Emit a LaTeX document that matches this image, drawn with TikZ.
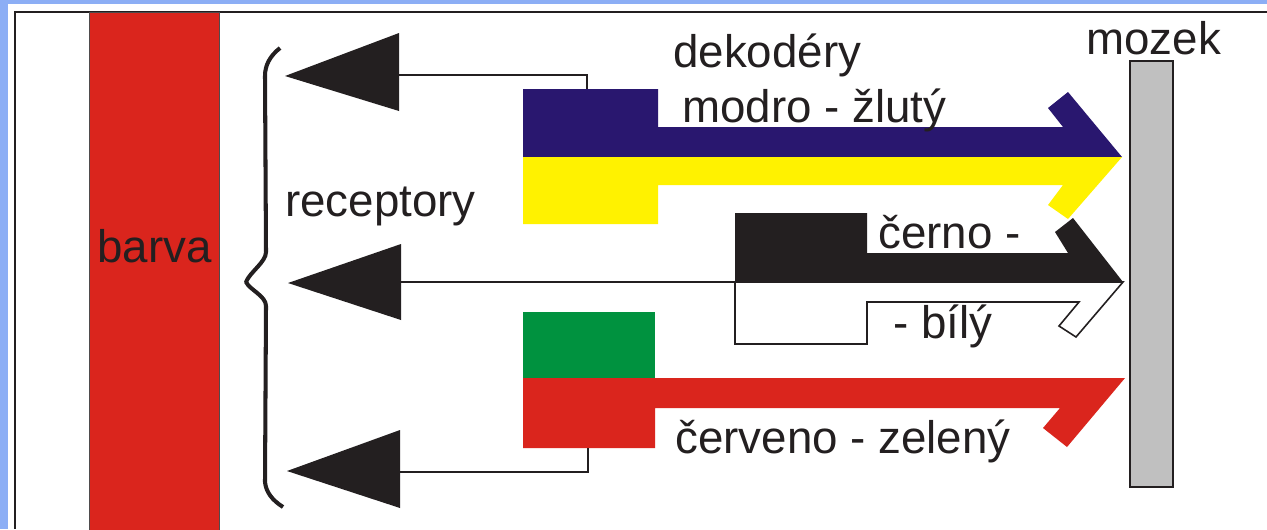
\documentclass[tikz,border=0pt]{standalone}
\usepackage{fontspec}
\setmainfont{Liberation Sans}
\definecolor{bgblue}{RGB}{140,174,245}
\definecolor{barred}{RGB}{218,37,29}
\definecolor{navy}{RGB}{41,23,111}
\definecolor{yel}{RGB}{255,242,0}
\definecolor{grn}{RGB}{0,146,63}
\definecolor{brain}{RGB}{192,192,192}
\definecolor{ink}{RGB}{35,31,32}
\tikzset{
  lbl/.style={inner sep=0pt, anchor=base west, text=ink, font=\fontsize{26}{30}\selectfont},
  thin line/.style={draw=ink, line width=0.8pt},
  tri/.style={fill=ink},
  outl/.style={draw=ink, line width=0.9pt, line join=miter}
}
\begin{document}
\begin{tikzpicture}[x=0.02cm, y=-0.02cm]
\useasboundingbox (0,0) rectangle (1267,529);
% background
\fill[bgblue] (0,0) rectangle (1267,529);
\fill[white] (8,4) rectangle (1267,529);
\draw[ink, line width=0.9pt] (1267,12) -- (15,12) -- (15,529);
% colour bar
\draw[fill=barred, draw=ink!80, line width=0.5pt] (89,12) rectangle (219,535);
\node[lbl] (barva) at (97,262) {barva};
% brace
\draw[ink, line width=2.3pt, line cap=butt, line join=round]
  (280,48) .. controls (270,56) and (265,65) .. (265,76) -- (266,252)
  .. controls (266,262) and (250,272) .. (246,282)
  .. controls (250,290) and (266,296) .. (266,306) -- (265,482)
  .. controls (266,492) and (272,500) .. (283,507);
\node[lbl] (receptory) at (285,216) {receptory};
% receptor arrows
\fill[tri] (285,76) coordinate (t1) -- (399,33) -- (399,111) -- cycle;
\coordinate (b1) at (399,75);
\fill[tri] (288,283) coordinate (t2) -- (401,244) -- (401,320) -- cycle;
\coordinate (b2) at (401,282);
\fill[tri] (287,471) coordinate (t3) -- (400,430) -- (400,508) -- cycle;
\coordinate (b3) at (400,472);
% decoder blocks
\fill[navy] (523,89) -- (658,89) -- (658,127) -- (1063,127) -- (1048,108) -- (1068,92)
  -- (1122,157) -- (523,157) -- cycle;
\fill[yel] (523,157) -- (1122,157) -- (1068,219) -- (1048,205) -- (1063,185)
  -- (658,185) -- (658,224) -- (523,224) -- cycle;
\fill[ink] (735,213) -- (867,213) -- (867,253) -- (1068,253) -- (1055,232) -- (1073,218)
  -- (1123,282) -- (735,282) -- cycle;
\draw[outl, fill=white] (735,282) -- (1123,282) -- (1076,337) -- (1059,326) -- (1079,302)
  -- (867,302) -- (867,344) -- (735,344) -- cycle;
\fill[grn] (523,312) rectangle (655,378);
\fill[barred] (523,378) -- (1125,378) -- (1067,447) -- (1043,428) -- (1060,408)
  -- (655,408) -- (655,448) -- (523,448) -- cycle;
\coordinate (d1) at (587,89);
\coordinate (d2) at (735,282);
\coordinate (d3) at (588,448);
% connectors
\draw[thin line] (b1) -| (d1);
\draw[thin line] (b2) -- (d2);
\draw[thin line] (b3) -| (d3);
% brain
\draw[fill=brain, draw=ink, line width=0.9pt] (1130,61) rectangle (1173,487);
\node[lbl] (mozek) at (1086,54) {mozek};
% labels
\node[lbl] (dekodery) at (673,67) {dekodéry};
\node[lbl] (mz) at (682,122) {modro - žlutý};
\node[lbl] (cerno) at (878,248) {černo -};
\node[lbl] (bily) at (893,338) {- bílý};
\node[lbl] (cz) at (675,453) {červeno - zelený};
\end{tikzpicture}
\end{document}
